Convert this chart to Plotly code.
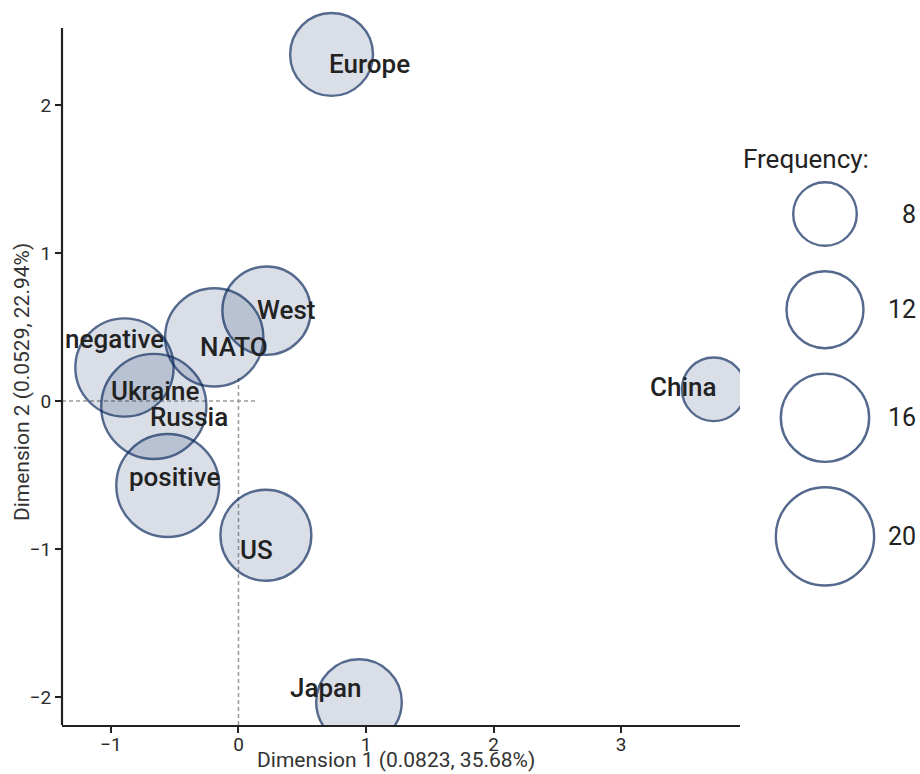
import numpy as np
import plotly.graph_objects as go

# Correspondence analysis coordinates of the terms
terms = ["Europe", "West", "NATO", "negative", "Ukraine", "Russia",
         "positive", "US", "Japan", "China"]
dim1 = [0.73, 0.22, -0.19, -0.894, -0.664, -0.388, -0.555, 0.215, 0.945, 3.727]
dim2 = [2.341, 0.61, 0.43, 0.226, -0.037, -0.108, -0.571, -0.907, -2.034, 0.079]
frequency = [14, 16, 20, 20, 23, None, 22, 17, 15, 8]

legend_breaks = [8, 12, 16, 20]

# label nudges in pixels (dx right, dy down)
label_nudge = {
    "Europe": (38, 10), "West": (19, -1), "NATO": (20, 10),
    "negative": (-10, -29), "Ukraine": (1, -15), "Russia": (0, 0),
    "positive": (7, -9), "US": (-9, 15), "Japan": (-33, -14), "China": (-30, -2),
}

NAVY = "#0c2a5e"
FILL = "rgba(26,58,110,0.23)"
TEXT = "#222222"
FONT = "Roboto"
LINE_W = 2.4


def size_scale(f):
    return 3.9 + 21.1 * np.sqrt(np.asarray(f, dtype=float))


X_RANGE = [-1.384, 3.933]
Y_RANGE = [-2.189, 2.709]
Y_AXIS_TOP = 2.52

fig = go.Figure()

drawn = [i for i, f in enumerate(frequency) if f is not None]
fig.add_trace(go.Scatter(
    x=[dim1[i] for i in drawn], y=[dim2[i] for i in drawn],
    mode="markers",
    marker=dict(size=size_scale([frequency[i] for i in drawn]), sizemode="diameter",
                color=FILL, line=dict(color=NAVY, width=LINE_W)),
    hoverinfo="text", text=[terms[i] for i in drawn],
    showlegend=False, cliponaxis=True,
))

# size legend on its own pixel-scaled axes
leg_sizes = size_scale(legend_breaks)
outer = leg_sizes + LINE_W
leg_y = [214.0]
for k in range(1, len(legend_breaks)):
    leg_y.append(leg_y[-1] + (outer[k - 1] + outer[k]) / 2 + 23)
fig.add_trace(go.Scatter(
    x=[825] * len(legend_breaks), y=leg_y, xaxis="x2", yaxis="y2",
    mode="markers",
    marker=dict(size=leg_sizes, color="white", line=dict(color=NAVY, width=LINE_W)),
    hoverinfo="skip", showlegend=False, cliponaxis=False,
))

annotations = []
for t, xv, yv in zip(terms, dim1, dim2):
    dx, dy = label_nudge[t]
    annotations.append(dict(
        x=xv, y=yv, xref="x", yref="y", text=t, showarrow=False,
        xshift=dx, yshift=-dy, xanchor="center", yanchor="middle",
        font=dict(family=FONT, size=26, color=TEXT, weight=500),
    ))
for b, yv in zip(legend_breaks, leg_y):
    annotations.append(dict(
        x=918, y=yv, xref="x2", yref="y2", text=str(b), showarrow=False,
        xanchor="right", yanchor="middle",
        font=dict(family=FONT, size=25, color=TEXT),
    ))
annotations.append(dict(
    x=741, y=159, xref="x2", yref="y2", text="Frequency:", showarrow=False,
    xanchor="left", yanchor="middle",
    font=dict(family=FONT, size=26, color=TEXT),
))
# axis titles
annotations.append(dict(
    x=sum(X_RANGE) / 2, y=0, xref="x", yref="paper", yshift=-49, xshift=-5,
    text="Dimension 1 (0.0823, 35.68%)", showarrow=False,
    xanchor="center", yanchor="bottom",
    font=dict(family=FONT, size=21, color="#333333"),
))
annotations.append(dict(
    x=0, y=0.473, xref="paper", yref="paper",
    xshift=-40, text="Dimension 2 (0.0529, 22.94%)", showarrow=False, textangle=-90,
    xanchor="center", yanchor="middle",
    font=dict(family=FONT, size=21, color="#333333"),
))

shapes = [
    dict(type="line", xref="x", yref="y", x0=X_RANGE[0], x1=0.145, y0=0, y1=0,
         line=dict(color="#999999", width=1.5, dash="4px,3px"), layer="below"),
    dict(type="line", xref="x", yref="y", x0=0, x1=0, y0=Y_RANGE[0], y1=0.155,
         line=dict(color="#999999", width=1.5, dash="4px,3px"), layer="below"),
    dict(type="line", xref="paper", yref="paper", x0=0, x1=0, y0=0,
         y1=(Y_AXIS_TOP - Y_RANGE[0]) / (Y_RANGE[1] - Y_RANGE[0]),
         line=dict(color="#222222", width=2.2)),
]

fig.update_layout(
    width=920, height=774,
    margin=dict(l=62, r=0, t=0, b=49),
    plot_bgcolor="white", paper_bgcolor="white",
    font=dict(family=FONT, color="#333333"),
    annotations=annotations, shapes=shapes,
    xaxis=dict(domain=[0, 0.7902], range=X_RANGE, showgrid=False, zeroline=False,
               showline=True, linecolor="#222222", linewidth=2.2,
               ticks="outside", ticklen=6, tickwidth=1.5, tickcolor="#222222",
               tickvals=[-1, 0, 1, 2, 3], ticklabelstandoff=-5,
               tickfont=dict(family=FONT, size=19, color="#2b2b2b")),
    yaxis=dict(domain=[0, 1], range=Y_RANGE, showgrid=False, zeroline=False,
               showline=False, ticks="outside", ticklen=6, tickwidth=1.5,
               tickcolor="#222222", tickvals=[-2, -1, 0, 1, 2],
               tickfont=dict(family=FONT, size=19, color="#2b2b2b")),
    xaxis2=dict(domain=[0.7902, 1], range=[740, 920], visible=False, anchor="y2"),
    yaxis2=dict(domain=[0, 1], range=[725, 0], visible=False, anchor="x2"),
)

fig.write_html("out.html")
